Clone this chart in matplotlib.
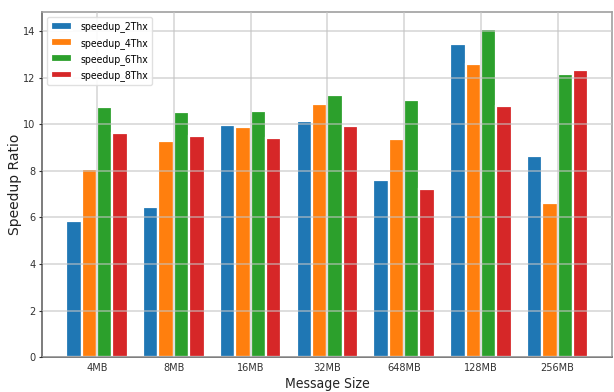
import numpy as np
import matplotlib
matplotlib.use("Agg")
import matplotlib.pyplot as plt

sizes = ["4MB", "8MB", "16MB", "32MB", "648MB", "128MB", "256MB"]
speedup_2thx = [5.86, 6.43, 9.96, 10.16, 7.59, 13.46, 8.62]
speedup_4thx = [8.10, 9.27, 9.88, 10.87, 9.37, 12.60, 6.61]
speedup_6thx = [10.74, 10.53, 10.56, 11.24, 11.03, 14.11, 12.17]
speedup_8thx = [9.64, 9.51, 9.41, 9.91, 7.23, 10.80, 12.33]

series = [
    ("speedup_2Thx", speedup_2thx, "#1f77b4"),
    ("speedup_4Thx", speedup_4thx, "#ff7f0e"),
    ("speedup_6Thx", speedup_6thx, "#2ca02c"),
    ("speedup_8Thx", speedup_8thx, "#d62728"),
]

plt.rcParams["font.family"] = ["DejaVu Sans"]
plt.rcParams["font.stretch"] = "condensed"

fig = plt.figure(figsize=(6.14, 3.92), dpi=100)
ax = fig.add_axes([0.068, 0.089, 0.929, 0.880])

x = np.arange(len(sizes))
width = 0.2
offsets = [-0.3, -0.1, 0.1, 0.3]
for (label, vals, color), off in zip(series, offsets):
    ax.bar(x + off, vals, width, color=color, edgecolor="white",
           linewidth=1.6, label=label, zorder=1)

ax.set_xlim(-0.72, 6.71)
ax.set_ylim(0, 14.82)
ax.set_xticks(x)
ax.set_xticklabels(sizes)
ax.set_yticks(np.arange(0, 15, 2))
ax.tick_params(axis="both", labelsize=7.8, colors="#333333", length=2.5,
               width=0.8, pad=1.8)
ax.tick_params(axis="x", length=0, pad=4)

ax.grid(True, color="#c4c4c4", linewidth=1.3, alpha=0.6, zorder=3)
ax.set_axisbelow(False)

for side in ("left", "bottom"):
    ax.spines[side].set_color("#666666")
for side in ("top", "right"):
    ax.spines[side].set_color("#a0a0a0")
for sp in ax.spines.values():
    sp.set_linewidth(1.2)

ax.set_xlabel("Message Size", fontsize=10, color="#222222", labelpad=3)
ax.set_ylabel("Speedup Ratio", fontsize=10, fontstretch="normal",
              color="#222222")
ax.yaxis.set_label_coords(-0.034, 0.5)

leg = ax.legend(loc="upper left", fontsize=7.5, framealpha=0.9,
                edgecolor="#dddddd", fancybox=True)

fig.savefig("out.png", dpi=100)
